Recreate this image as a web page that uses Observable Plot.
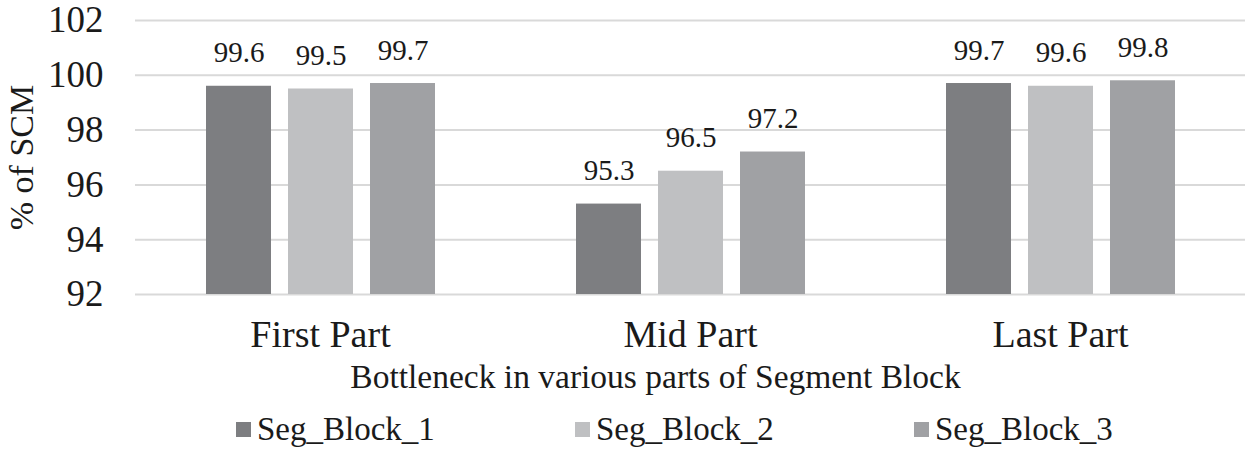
<!DOCTYPE html>
<html>
<head>
<meta charset="utf-8">
<script src="https://cdn.jsdelivr.net/npm/d3@7"></script>
<script src="https://cdn.jsdelivr.net/npm/@observablehq/plot@0.6"></script>
<style>
  html, body { margin: 0; padding: 0; background: #ffffff; }
  #chart { width: 1245px; }
  .legend { position: relative; width: 1245px; height: 50px; font-family: "Liberation Serif", "Times New Roman", serif; color: #1a1a1a; }
  .legend .item { position: absolute; top: 13px; display: flex; align-items: center; font-size: 33px; line-height: 33px; white-space: nowrap; }
  .legend .sw { width: 15px; height: 15px; margin-right: 6px; display: inline-block; }
</style>
</head>
<body>
<div id="chart"></div>
<script>
// ---- data ----
const categories = ["First Part", "Mid Part", "Last Part"];
const series = ["Seg_Block_1", "Seg_Block_2", "Seg_Block_3"];
const segBlock1 = [99.6, 95.3, 99.7];
const segBlock2 = [99.5, 96.5, 99.6];
const segBlock3 = [99.7, 97.2, 99.8];
const yTicks = [92, 94, 96, 98, 100, 102];
const yDomain = [92, 102];
const yLabel = "% of SCM";
const xLabel = "Bottleneck in various parts of Segment Block";
const colors = ["#7d7e81", "#bfc0c2", "#a0a1a4"];

// ---- table ----
const valuesBySeries = [segBlock1, segBlock2, segBlock3];
const data = [];
categories.forEach((c, i) => {
  series.forEach((s, j) => {
    data.push({category: c, series: s, value: valuesBySeries[j][i]});
  });
});

const font = '"Liberation Serif", "Times New Roman", serif';

const chart = Plot.plot({
  width: 1245,
  height: 400,
  marginLeft: 134,
  marginRight: 0,
  marginTop: 20,
  marginBottom: 106,
  style: {fontFamily: font, color: "#1a1a1a", background: "#ffffff", overflow: "visible"},
  fx: {domain: categories, padding: 0, label: null},
  x: {domain: series, paddingInner: 0.212, paddingOuter: 0.85, axis: null},
  y: {domain: yDomain, label: null},
  color: {domain: series, range: colors},
  marks: [
    Plot.gridY(yTicks, {stroke: "#d9d9d9", strokeOpacity: 1, strokeWidth: 2}),
    Plot.barY(data, {fx: "category", x: "series", y1: yDomain[0], y2: "value", fill: "series"}),
    Plot.text(data, {
      fx: "category", x: "series", y: "value",
      text: d => d.value.toFixed(1),
      lineAnchor: "bottom", dy: -24, fontSize: 29, fill: "#1a1a1a"
    }),
    Plot.axisY({ticks: yTicks, tickSize: 0, tickPadding: 32, fontSize: 37, label: null}),
    Plot.axisFx({anchor: "bottom", tickSize: 0, tickPadding: 26, fontSize: 38, label: null}),
    Plot.text([yLabel], {
      text: d => d, frameAnchor: "left", rotate: -90, dx: -113,
      fontSize: 34, lineAnchor: "middle", textAnchor: "middle", facet: "super", fill: "#1a1a1a"
    }),
    Plot.text([xLabel], {
      text: d => d, frameAnchor: "bottom", dx: -35, dy: 83,
      fontSize: 33.5, lineAnchor: "middle", textAnchor: "middle", facet: "super", fill: "#1a1a1a"
    })
  ]
});

document.getElementById("chart").appendChild(chart);

// ---- legend ----
const legend = document.createElement("div");
legend.className = "legend";
const legendLeft = [236, 575, 914];
series.forEach((s, i) => {
  const item = document.createElement("div");
  item.className = "item";
  item.style.left = legendLeft[i] + "px";
  const sw = document.createElement("span");
  sw.className = "sw";
  sw.style.background = colors[i];
  const t = document.createElement("span");
  t.textContent = s;
  item.appendChild(sw);
  item.appendChild(t);
  legend.appendChild(item);
});
document.body.appendChild(legend);
</script>
</body>
</html>
